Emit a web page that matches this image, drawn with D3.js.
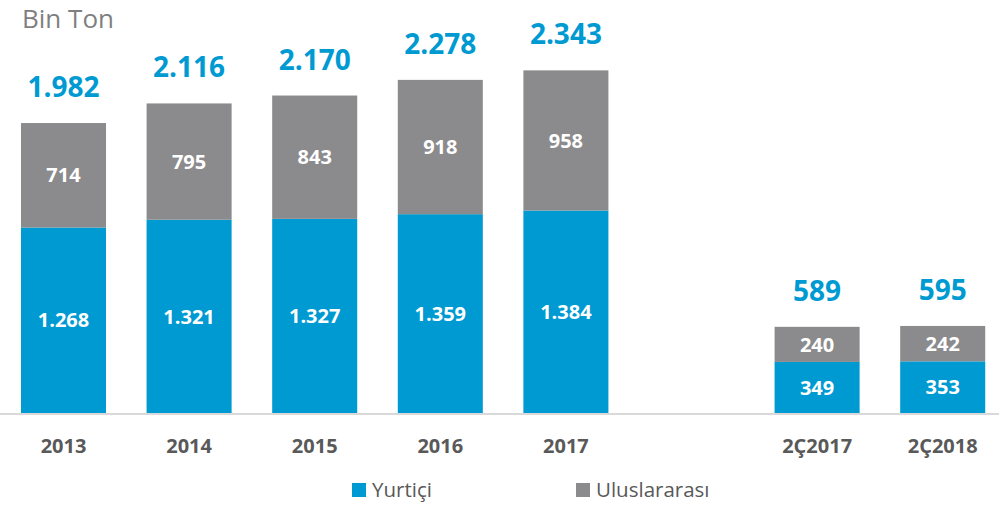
<!DOCTYPE html>
<html>
<head>
<meta charset="utf-8">
<script src="https://d3js.org/d3.v7.min.js"></script>
<style>
	body { margin: 0; background: #ffffff; }
	svg { display: block; font-family: "Open Sans", sans-serif; }
</style>
</head>
<body>
<div id="chart"></div>
<script>

// Donnees
const categories = ["2013", "2014", "2015", "2016", "2017", "2Ç2017", "2Ç2018"];
const yurtici = [1268, 1321, 1327, 1359, 1384, 349, 353];
const uluslararasi = [714, 795, 843, 918, 958, 240, 242];
const toplam = [1982, 2116, 2170, 2278, 2343, 589, 595];
const seriesNames = ["Yurtiçi", "Uluslararası"];
const unitLabel = "Bin Ton";

const width = 999, height = 505;
const blue = "#009ad2", grey = "#8b8b8d";

// un emplacement vide entre 2017 et les trimestres
const slots = ["2013", "2014", "2015", "2016", "2017", "_", "2Ç2017", "2Ç2018"];

const x = d3.scaleBand()
	.domain(slots)
	.range([0.7, 1005.5])
	.paddingInner(0.323)
	.paddingOuter(0.1615);

const y = d3.scaleLinear()
	.domain([0, 2823])
	.range([413, 0]);

const fmt = v => d3.format(",")(v).replace(/,/g, ".");

const svg = d3.select("#chart")
	.append("svg")
	.attr("width", width)
	.attr("height", height);

const rows = categories.map((c, i) => ({
	cat: c, yurtici: yurtici[i], uluslararasi: uluslararasi[i], toplam: toplam[i]
}));

const stack = d3.stack().keys(["yurtici", "uluslararasi"])(rows);
const colors = [blue, grey];

const layers = svg.selectAll("g.layer")
	.data(stack)
	.enter()
	.append("g")
	.attr("class", "layer")
	.attr("fill", (d, i) => colors[i]);

layers.selectAll("rect")
	.data(d => d)
	.enter()
	.append("rect")
	.attr("x", d => x(d.data.cat))
	.attr("y", d => y(d[1]))
	.attr("width", x.bandwidth())
	.attr("height", d => y(d[0]) - y(d[1]));

layers.selectAll("text")
	.data(d => d)
	.enter()
	.append("text")
	.attr("x", d => x(d.data.cat) + x.bandwidth() / 2)
	.attr("y", d => (y(d[0]) + y(d[1])) / 2)
	.attr("dy", "0.36em")
	.attr("text-anchor", "middle")
	.attr("fill", "#ffffff")
	.style("font-size", "20px")
	.style("font-weight", "bold")
	.text(d => fmt(d[1] - d[0]));

// totaux
svg.selectAll("text.total")
	.data(rows)
	.enter()
	.append("text")
	.attr("class", "total")
	.attr("x", d => x(d.cat) + x.bandwidth() / 2)
	.attr("y", d => y(d.toplam) - 26)
	.attr("text-anchor", "middle")
	.attr("fill", blue)
	.style("font-size", "28px")
	.style("font-weight", "bold")
	.text(d => fmt(d.toplam));

// ligne de base
svg.append("line")
	.attr("x1", 0)
	.attr("x2", width)
	.attr("y1", y(0) + 1)
	.attr("y2", y(0) + 1)
	.attr("stroke", "#d9d9d9")
	.attr("stroke-width", 2);

// axe des categories
const axis = svg.append("g")
	.attr("transform", "translate(0," + (y(0) + 2) + ")")
	.call(d3.axisBottom(x).tickValues(categories).tickSize(0).tickPadding(0));
axis.select(".domain").remove();
axis.selectAll("text")
	.attr("dy", "0")
	.attr("y", 38)
	.attr("fill", "#595959")
	.style("font-family", "'Open Sans', sans-serif")
	.style("font-size", "20px")
	.style("font-weight", "bold");

// unite
svg.append("text")
	.attr("x", 22)
	.attr("y", 28)
	.attr("fill", "#7f7f7f")
	.style("font-size", "26px")
	.text(unitLabel);

// legende
const legendX = [352, 576];
const legend = svg.selectAll("g.legend")
	.data(seriesNames)
	.enter()
	.append("g")
	.attr("class", "legend")
	.attr("transform", (d, i) => "translate(" + legendX[i] + ",483)");

legend.append("rect")
	.attr("width", 14)
	.attr("height", 14)
	.attr("fill", (d, i) => colors[i]);

legend.append("text")
	.attr("x", 20)
	.attr("y", 14)
	.attr("fill", "#595959")
	.style("font-size", "20.5px")
	.text(d => d);

</script>
</body>
</html>
